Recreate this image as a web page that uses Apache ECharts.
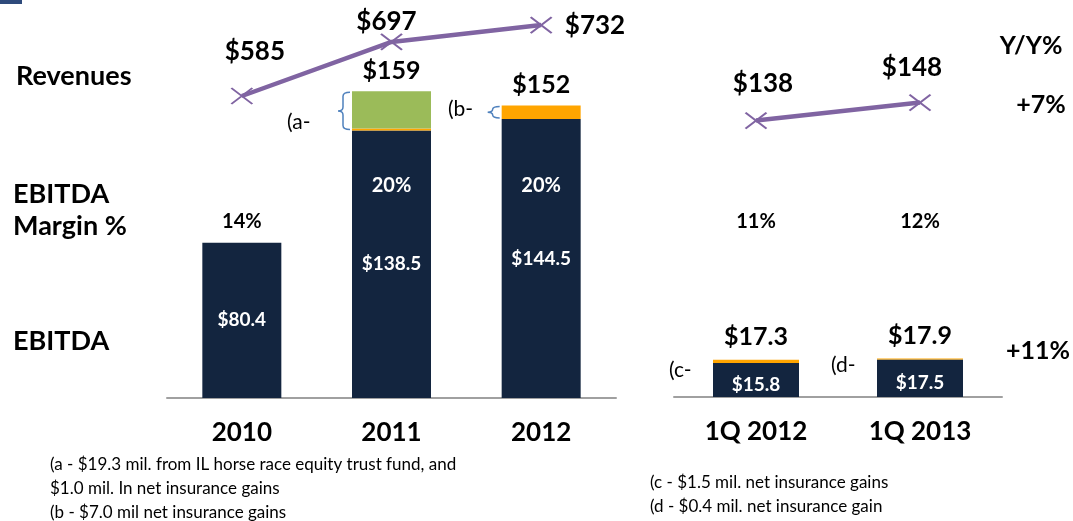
<!DOCTYPE html>
<html>
<head>
<meta charset="utf-8">
<script src="https://cdn.jsdelivr.net/npm/echarts@6/dist/echarts.min.js"></script>
<style>
  html, body { margin: 0; padding: 0; background: #fff; }
  #chart { width: 1073px; height: 521px; }
</style>
</head>
<body>
<div id="chart"></div>
<script>
// annual panel
const years = ['2010', '2011', '2012'];
const revenueAnnual = [585, 697, 732];
const ebitdaAnnual = [80.4, 138.5, 144.5];
const insuranceAnnual = [0, 1.0, 7.0];
const trustFundAnnual = [0, 19.3, 0];
const marginAnnual = ['14%', '20%', '20%'];

// quarterly panel
const quarters = ['1Q 2012', '1Q 2013'];
const revenueQuarter = [138, 148];
const ebitdaQuarter = [15.8, 17.5];
const insuranceQuarter = [1.5, 0.4];
const marginQuarter = ['11%', '12%'];

const FONT = 'Lato, "DejaVu Sans", sans-serif';
const NAVY = '#13253F';
const ORANGE = '#FFA500';
const GREEN = '#9BBB59';
const PURPLE = '#8064A2';
const AXIS = '#A0A0A0';

var chart = echarts.init(document.getElementById('chart'));

const annualTotals = ebitdaAnnual.map((v, i) => v + insuranceAnnual[i] + trustFundAnnual[i]);
const quarterTotals = ebitdaQuarter.map((v, i) => v + insuranceQuarter[i]);

// label placement for the revenue points
const annualLabelCfg = [
  { position: 'top', offset: [13, -18] },
  { position: 'top', offset: [-5, 7] },
  { position: 'right', offset: [7, 1] }
];
const quarterLabelCfg = [
  { position: 'top', offset: [7, -10] },
  { position: 'top', offset: [-8, -8] }
];

const crossSymbol = 'path://M0,0L10,8M10,0L0,8';

function catAxis(grid, data, show) {
  return {
    type: 'category', gridIndex: grid, data: data, show: show,
    axisLine: { lineStyle: { color: AXIS, width: 2 } },
    axisTick: { length: 8, lineStyle: { color: AXIS, width: 2 } },
    axisLabel: { color: '#000', fontFamily: FONT, fontWeight: 'bold', fontSize: 26, margin: 22 }
  };
}

function braceItem(params, api) {
  var i = api.value(0);
  var lo = api.coord([i, api.value(1)]);
  var hi = api.coord([i, api.value(2)]);
  var bl = lo[0] - 79 / 2;
  var xr = bl - 2, sp = bl - 9, xl = bl - 14;
  var top = hi[1] + 1, bot = lo[1] - 1, mid = (top + bot) / 2;
  var r = Math.min(4, (bot - top) / 4);
  var d = 'M' + xr + ',' + top + ' Q' + sp + ',' + top + ' ' + sp + ',' + (top + r) +
    ' L' + sp + ',' + (mid - r) + ' Q' + sp + ',' + mid + ' ' + xl + ',' + mid +
    ' Q' + sp + ',' + mid + ' ' + sp + ',' + (mid + r) +
    ' L' + sp + ',' + (bot - r) + ' Q' + sp + ',' + bot + ' ' + xr + ',' + bot;
  return {
    type: 'path',
    shape: { pathData: d, x: xl, y: top, width: xr - xl, height: bot - top, layout: 'cover' },
    style: { stroke: '#4F81BD', fill: 'none', lineWidth: 1.5 }
  };
}

const braceData = [];
ebitdaAnnual.forEach((v, i) => {
  var add = insuranceAnnual[i] + trustFundAnnual[i];
  if (add > 0) braceData.push([i, v, v + add]);
});

function txt(id, text, x, y, opts) {
  return {
    type: 'text', id: id, x: x, y: y, z: 50,
    style: Object.assign({
      text: text, fill: '#000', fontFamily: FONT, fontSize: 24, fontWeight: 'bold',
      textAlign: 'left', textVerticalAlign: 'middle'
    }, opts || {})
  };
}

var option = {
  animation: false,
  grid: [
    { left: 167, width: 449, top: 89, bottom: 123 },
    { left: 167, width: 449, top: 0, height: 137 },
    { left: 674, width: 328, top: 311, bottom: 124 },
    { left: 674, width: 328, top: 0, height: 153 }
  ],
  xAxis: [
    catAxis(0, years, true),
    catAxis(1, years, false),
    catAxis(2, quarters, true),
    catAxis(3, quarters, false)
  ],
  yAxis: [
    { type: 'value', gridIndex: 0, min: 0, max: 160, show: false },
    { type: 'value', gridIndex: 1, min: 500, max: 784, show: false },
    { type: 'value', gridIndex: 2, min: 0, max: 40, show: false },
    { type: 'value', gridIndex: 3, min: 120, max: 205, show: false }
  ],
  series: [
    {
      name: 'EBITDA', type: 'bar', xAxisIndex: 0, yAxisIndex: 0, stack: 'a', barWidth: 79,
      data: ebitdaAnnual, itemStyle: { color: NAVY },
      label: { show: true, position: 'inside', color: '#fff', fontFamily: FONT, fontWeight: 'bold', fontSize: 19,
        formatter: p => '$' + p.value.toFixed(1) }
    },
    { name: 'Insurance gains', type: 'bar', xAxisIndex: 0, yAxisIndex: 0, stack: 'a', barWidth: 79,
      data: insuranceAnnual, itemStyle: { color: ORANGE } },
    { name: 'IL trust fund', type: 'bar', xAxisIndex: 0, yAxisIndex: 0, stack: 'a', barWidth: 79,
      data: trustFundAnnual, itemStyle: { color: GREEN } },
    {
      name: 'total', type: 'bar', xAxisIndex: 0, yAxisIndex: 0, stack: 'a', barWidth: 79,
      data: years.map(() => 0), itemStyle: { color: 'transparent' },
      label: { show: true, position: 'top', distance: 8, color: '#000', fontFamily: FONT, fontWeight: 'bold', fontSize: 25,
        formatter: p => (annualTotals[p.dataIndex] > ebitdaAnnual[p.dataIndex]) ? '$' + Math.round(annualTotals[p.dataIndex]) : '' }
    },
    { type: 'custom', xAxisIndex: 0, yAxisIndex: 0, data: braceData, renderItem: braceItem, z: 5 },
    {
      name: 'Revenues', type: 'line', xAxisIndex: 1, yAxisIndex: 1,
      data: revenueAnnual.map((v, i) => ({ value: v, label: annualLabelCfg[i] })),
      symbol: crossSymbol, symbolSize: [21, 16],
      lineStyle: { color: PURPLE, width: 4.5 },
      itemStyle: { color: PURPLE, borderColor: PURPLE, borderWidth: 2 },
      label: { show: true, color: '#000', fontFamily: FONT, fontWeight: 'bold', fontSize: 26, distance: 5,
        formatter: p => '$' + p.value }
    },
    {
      name: 'EBITDA Q', type: 'bar', xAxisIndex: 2, yAxisIndex: 2, stack: 'q', barWidth: 86,
      data: ebitdaQuarter, itemStyle: { color: NAVY },
      label: { show: true, position: 'inside', offset: [0, 5], color: '#fff', fontFamily: FONT, fontWeight: 'bold', fontSize: 19,
        formatter: p => '$' + p.value.toFixed(1) }
    },
    { name: 'Insurance Q', type: 'bar', xAxisIndex: 2, yAxisIndex: 2, stack: 'q', barWidth: 86,
      data: insuranceQuarter, itemStyle: { color: ORANGE } },
    {
      name: 'total Q', type: 'bar', xAxisIndex: 2, yAxisIndex: 2, stack: 'q', barWidth: 86,
      data: quarters.map(() => 0), itemStyle: { color: 'transparent' },
      label: { show: true, position: 'top', distance: 10, color: '#000', fontFamily: FONT, fontWeight: 'bold', fontSize: 25,
        formatter: p => '$' + quarterTotals[p.dataIndex].toFixed(1) }
    },
    {
      name: 'Revenues Q', type: 'line', xAxisIndex: 3, yAxisIndex: 3,
      data: revenueQuarter.map((v, i) => ({ value: v, label: quarterLabelCfg[i] })),
      symbol: crossSymbol, symbolSize: [21, 16],
      lineStyle: { color: PURPLE, width: 4.5 },
      itemStyle: { color: PURPLE, borderColor: PURPLE, borderWidth: 2 },
      label: { show: true, color: '#000', fontFamily: FONT, fontWeight: 'bold', fontSize: 26, distance: 5,
        formatter: p => '$' + p.value }
    }
  ],
  graphic: [
    { type: 'rect', id: 'corner', shape: { x: 0, y: 0, width: 22, height: 4 }, style: { fill: '#2E4A7B' } },
    txt('rev', 'Revenues', 16, 76, { fontSize: 27 }),
    txt('eb1', 'EBITDA', 13, 194, { fontSize: 27 }),
    txt('eb2', 'Margin %', 13, 226, { fontSize: 27 }),
    txt('eb3', 'EBITDA', 13, 341, { fontSize: 27 }),
    txt('yy', 'Y/Y%', 1031, 46, { textAlign: 'center', fontSize: 25 }),
    txt('yy1', '+7%', 1041, 105, { textAlign: 'center', fontSize: 25 }),
    txt('yy2', '+11%', 1038, 351, { textAlign: 'center', fontSize: 25 }),
    txt('na', '(a-', 287, 122, { fontWeight: 'normal', fontSize: 21 }),
    txt('nb', '(b-', 448, 109, { fontWeight: 'normal', fontSize: 21 }),
    txt('nc', '(c-', 669, 370, { fontWeight: 'normal', fontSize: 21 }),
    txt('nd', '(d-', 831, 365, { fontWeight: 'normal', fontSize: 21 }),
    txt('f1', '(a - $19.3 mil. from IL horse race equity trust fund, and', 50, 465, { fontWeight: 'normal', fontSize: 17 }),
    txt('f2', '$1.0 mil. In net insurance gains', 50, 489, { fontWeight: 'normal', fontSize: 17 }),
    txt('f3', '(b - $7.0 mil net insurance gains', 50, 513, { fontWeight: 'normal', fontSize: 17 }),
    txt('f4', '(c - $1.5 mil. net insurance gains', 650, 483, { fontWeight: 'normal', fontSize: 17 }),
    txt('f5', '(d - $0.4 mil. net insurance gain', 650, 507, { fontWeight: 'normal', fontSize: 17 })
  ]
};

chart.setOption(option);

// EBITDA margin labels, placed over their category
var marginY = [222, 186, 186];
var extra = [];
marginAnnual.forEach((m, i) => {
  var x = chart.convertToPixel({ xAxisIndex: 0 }, years[i]);
  extra.push(txt('ma' + i, m, x, marginY[i], { textAlign: 'center', fontSize: 20, fill: i === 0 ? '#000' : '#fff' }));
});
marginQuarter.forEach((m, i) => {
  var x = chart.convertToPixel({ xAxisIndex: 2 }, quarters[i]);
  extra.push(txt('mq' + i, m, x, 222, { textAlign: 'center', fontSize: 20 }));
});
chart.setOption({ graphic: extra });
</script>
</body>
</html>
